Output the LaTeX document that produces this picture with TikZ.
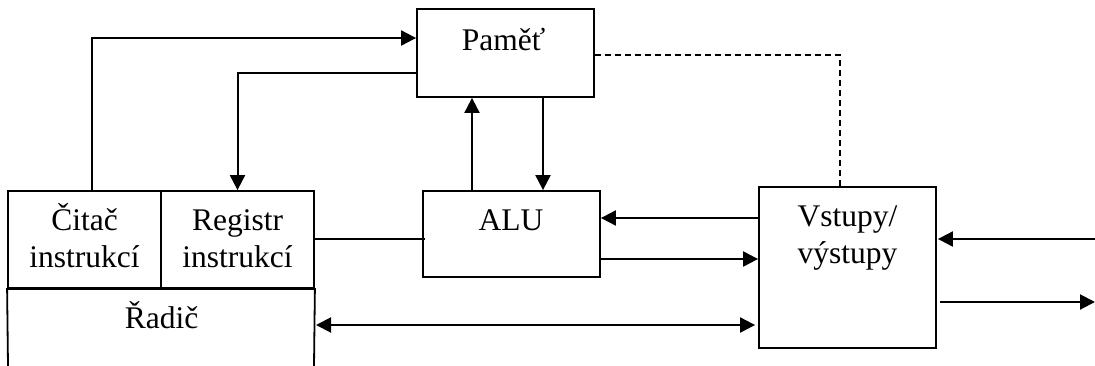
\documentclass[tikz,border=0pt]{standalone}
\usepackage{fontspec}
\setmainfont{Liberation Serif}
\usetikzlibrary{arrows.meta}
\begin{document}
\begin{tikzpicture}[x=1pt,y=-1pt,
  box/.style={draw,line width=1.8pt,inner sep=0pt},
  lbl/.style={anchor=base,align=center,inner sep=0pt,font=\fontsize{31.5}{37}\selectfont},
  conn/.style={line width=2pt},
  arr/.style={conn,-{Triangle[length=15pt,width=15pt]}},
  darr/.style={conn,{Triangle[length=15pt,width=15pt]}-{Triangle[length=15pt,width=15pt]}}]
\useasboundingbox (0,0) rectangle (1095,365);
% boxes
\node[box,minimum width=153pt,minimum height=97pt] (cit) at (84.5,239.5) {};
\node[box,minimum width=153pt,minimum height=97pt] (reg) at (237.5,239.5) {};
\node[box,minimum width=177pt,minimum height=88pt] (mem) at (505.5,53) {};
\node[box,minimum width=177pt,minimum height=86pt] (alu) at (511.5,234) {};
\node[box,minimum width=177pt,minimum height=161pt] (io) at (847.5,267.5) {};
\draw[line width=1.8pt] (8,366) -- (cit.south west) -- (reg.south east) -- (314,366);
% labels
\node[lbl] (tcit) at (84.5,267) {Čitač\\instrukcí};
\node[lbl] (treg) at (237.5,267) {Registr\\instrukcí};
\node[lbl] (trad) at (161.5,328) {Řadič};
\node[lbl] (tmem) at (503.5,50) {Paměť};
\node[lbl] (talu) at (511,230) {ALU};
\node[lbl] (tio) at (847.5,263) {Vstupy/\\výstupy};
% coordinates
\coordinate (rad) at (316,325);
\coordinate (inR) at (1095,239);
\coordinate (outR) at (1095,302);
\coordinate (outL) at (940,302);
% connectors
\draw[arr] ([xshift=7.5pt]cit.north) |- ([yshift=15pt]mem.west);
\draw[arr] ([yshift=-20pt]mem.west) -| (reg.north);
\draw[conn] ([yshift=0.5pt]reg.east) -- ([xshift=3pt,yshift=0.5pt]alu.west |- reg.east);
\draw[arr] ([xshift=-39.5pt]alu.north) -- ([xshift=-39.5pt]alu.north |- mem.south);
\draw[arr] ([xshift=31.5pt]alu.north |- mem.south) -- ([xshift=31.5pt]alu.north);
\draw[line width=1.4pt,dash pattern=on 6pt off 4pt] ([yshift=-2pt]mem.east) -| ([xshift=-7.5pt]io.north);
\draw[arr] ([yshift=49.5pt]io.west) -- ([yshift=49.5pt]io.west -| alu.east);
\draw[arr] ([yshift=-25pt]alu.east) -- ([yshift=-25pt]alu.east -| io.west);
\draw[darr] (rad) -- ([xshift=-3pt]rad -| io.west);
\draw[arr] (inR) -- ([xshift=1pt]inR -| io.east);
\draw[arr] (outL) -- (outR);
\end{tikzpicture}
\end{document}
